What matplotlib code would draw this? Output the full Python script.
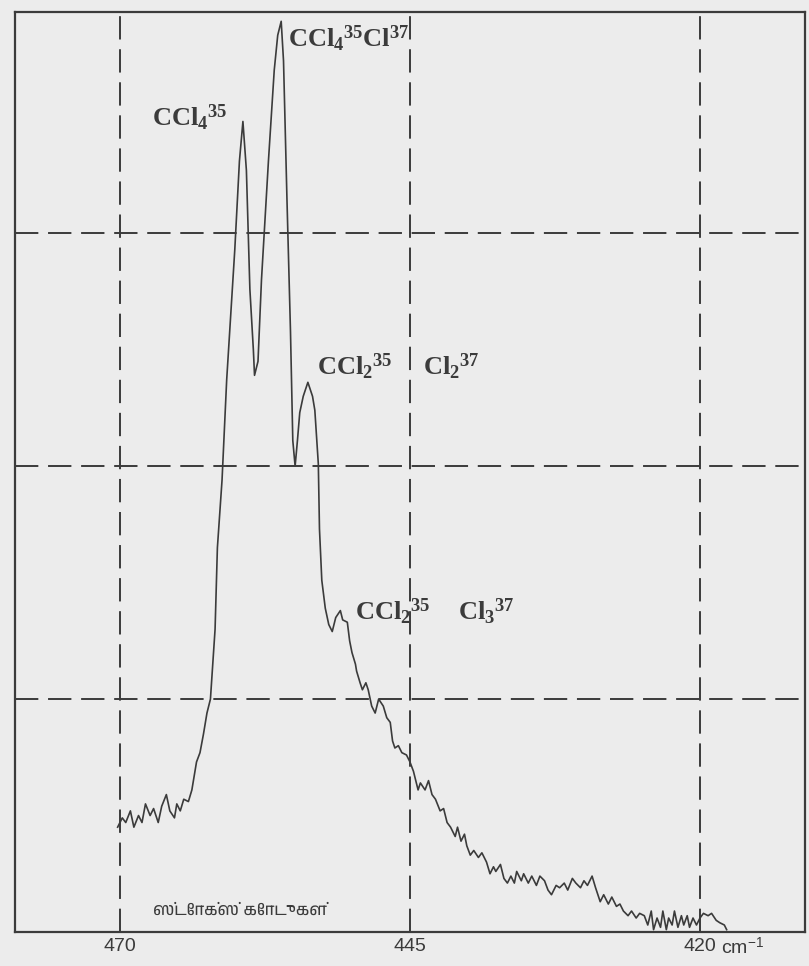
import matplotlib
matplotlib.use("Agg")
import matplotlib.pyplot as plt
from matplotlib import font_manager

# Raman spectrum of CCl4 (Stokes side)
wavenumber = [
    470.2, 469.8, 469.5, 469.1, 468.8, 468.4, 468.1, 467.8, 467.4, 467.1,
    466.7, 466.4, 466.0, 465.7, 465.3, 465.1, 464.8, 464.5, 464.1, 463.8,
    463.4, 463.1, 462.8, 462.5, 462.2, 462.0, 461.8, 461.6, 461.2, 460.8,
    460.1, 459.7, 459.4, 459.1, 458.8, 458.5, 458.4, 458.1, 457.8, 457.2,
    456.7, 456.4, 456.1, 455.9, 455.6, 455.3, 455.1, 454.9, 454.7, 454.5,
    454.2, 453.8, 453.4, 453.2, 452.9, 452.8, 452.6, 452.3, 452.0, 451.7,
    451.4, 451.0, 450.8, 450.4, 450.2, 450.0, 449.7, 449.6, 449.3, 449.1,
    448.8, 448.6, 448.3, 448.0, 447.7, 447.3, 447.0, 446.7, 446.5, 446.3,
    446.0, 445.7, 445.3, 445.0, 444.7, 444.3, 444.1, 443.7, 443.4, 443.1,
    442.8, 442.4, 442.1, 441.8, 441.5, 441.1, 440.9, 440.6, 440.3, 440.1,
    439.8, 439.5, 439.1, 438.8, 438.4, 438.1, 437.8, 437.6, 437.2, 436.9,
    436.6, 436.3, 436.0, 435.8, 435.4, 435.2, 434.8, 434.5, 434.1, 433.8,
    433.4, 433.1, 432.8, 432.4, 432.1, 431.7, 431.4, 431.0, 430.7, 430.3,
    430.0, 429.7, 429.3, 429.0, 428.6, 428.3, 427.9, 427.6, 427.2, 426.9,
    426.6, 426.2, 425.9, 425.5, 425.2, 424.8, 424.5, 424.2, 424.0, 423.7,
    423.4, 423.2, 422.9, 422.7, 422.4, 422.2, 421.9, 421.6, 421.4, 421.1,
    420.9, 420.6, 420.3, 420.0, 419.7, 419.3, 419.0, 418.6, 418.3, 417.9,
    417.7,
]
intensity = [
    0.45, 0.49, 0.47, 0.52, 0.45, 0.50, 0.47, 0.55, 0.50, 0.53,
    0.47, 0.54, 0.59, 0.52, 0.49, 0.55, 0.52, 0.57, 0.56, 0.61,
    0.73, 0.77, 0.85, 0.94, 1.00, 1.15, 1.30, 1.65, 1.94, 2.37,
    2.93, 3.31, 3.48, 3.27, 2.76, 2.50, 2.39, 2.45, 2.80, 3.31,
    3.70, 3.85, 3.91, 3.74, 3.14, 2.58, 2.11, 2.00, 2.11, 2.23,
    2.30, 2.36, 2.30, 2.24, 2.01, 1.73, 1.51, 1.39, 1.32, 1.29,
    1.35, 1.38, 1.34, 1.33, 1.25, 1.20, 1.15, 1.12, 1.07, 1.04,
    1.07, 1.04, 0.97, 0.94, 1.00, 0.97, 0.92, 0.90, 0.82, 0.79,
    0.80, 0.77, 0.76, 0.73, 0.69, 0.61, 0.64, 0.61, 0.65, 0.59,
    0.57, 0.52, 0.53, 0.47, 0.45, 0.41, 0.45, 0.39, 0.42, 0.37,
    0.33, 0.35, 0.32, 0.34, 0.30, 0.25, 0.28, 0.26, 0.29, 0.23,
    0.21, 0.24, 0.21, 0.26, 0.22, 0.25, 0.21, 0.24, 0.20, 0.24,
    0.22, 0.18, 0.16, 0.20, 0.19, 0.21, 0.18, 0.23, 0.21, 0.19,
    0.22, 0.20, 0.24, 0.19, 0.13, 0.16, 0.12, 0.15, 0.11, 0.12,
    0.09, 0.07, 0.09, 0.06, 0.08, 0.07, 0.03, 0.09, 0.01, 0.06,
    0.02, 0.09, 0.01, 0.06, 0.03, 0.09, 0.02, 0.07, 0.03, 0.07,
    0.02, 0.06, 0.03, 0.06, 0.08, 0.07, 0.08, 0.05, 0.04, 0.03,
    0.01,
]

grid_x = [470, 445, 420]
grid_y = [1, 2, 3]
tick_labels = ["470", "445", "420"]

peak_labels = [
    (r"CCl$_{4}{}^{35}$", 467.2, 3.46),
    (r"CCl$_{4}{}^{35}$Cl$^{37}$", 455.5, 3.80),
    (r"CCl$_{2}{}^{35}$", 453.0, 2.39),
    (r"Cl$_{2}{}^{37}$", 443.9, 2.39),
    (r"CCl$_{2}{}^{35}$", 449.7, 1.34),
    (r"Cl$_{3}{}^{37}$", 440.9, 1.34),
]
stokes_text = "ஸ்டோக்ஸ் கோடுகள்"

ink = "#3b3b3b"
paper = "#ececec"

plt.rcParams["mathtext.fontset"] = "custom"
plt.rcParams["mathtext.rm"] = "Liberation Serif"
plt.rcParams["mathtext.bf"] = "Liberation Serif:bold"
plt.rcParams["mathtext.default"] = "bf"

# any font that can draw Tamil, if one is there
names = sorted({f.name for f in font_manager.fontManager.ttflist})
tamil = [n for n in names if "Tamil" in n or "Lohit" in n]

fig = plt.figure(figsize=(8.09, 9.66), dpi=100, facecolor=paper)
ax = fig.add_axes([0.0185, 0.0352, 0.9765, 0.9524], facecolor=paper)

ax.plot(wavenumber, intensity, color=ink, lw=1.2)

for gx in grid_x:
    ax.axvline(gx, color=ink, lw=1.4, ls=(0, (12, 5)))
for gy in grid_y:
    ax.axhline(gy, color=ink, lw=1.4, ls=(0, (12, 5)))

ax.set_xlim(479.05, 410.95)
ax.set_ylim(0, 3.95)

for s in ax.spines.values():
    s.set_color(ink)
    s.set_linewidth(1.6)

ax.set_yticks([])
ax.set_xticks(grid_x)
ax.set_xticklabels(tick_labels, fontsize=14, color=ink, family="Liberation Sans")
ax.tick_params(axis="x", length=0, pad=4)
ax.text(418.2, -0.0235, r"cm$^{\mathregular{-1}}$", fontsize=14, color=ink,
        ha="left", va="baseline", family="Liberation Sans",
        transform=ax.get_xaxis_transform())

for txt, x, y in peak_labels:
    ax.text(x, y, txt, fontsize=19, color=ink, ha="left", va="baseline",
            family="Liberation Serif", fontweight="bold")

ax.text(459.7, 0.09, stokes_text, fontsize=12, color=ink, ha="center", va="center",
        family=tamil + ["DejaVu Sans"])

plt.savefig("out.png", dpi=100, facecolor=paper)
